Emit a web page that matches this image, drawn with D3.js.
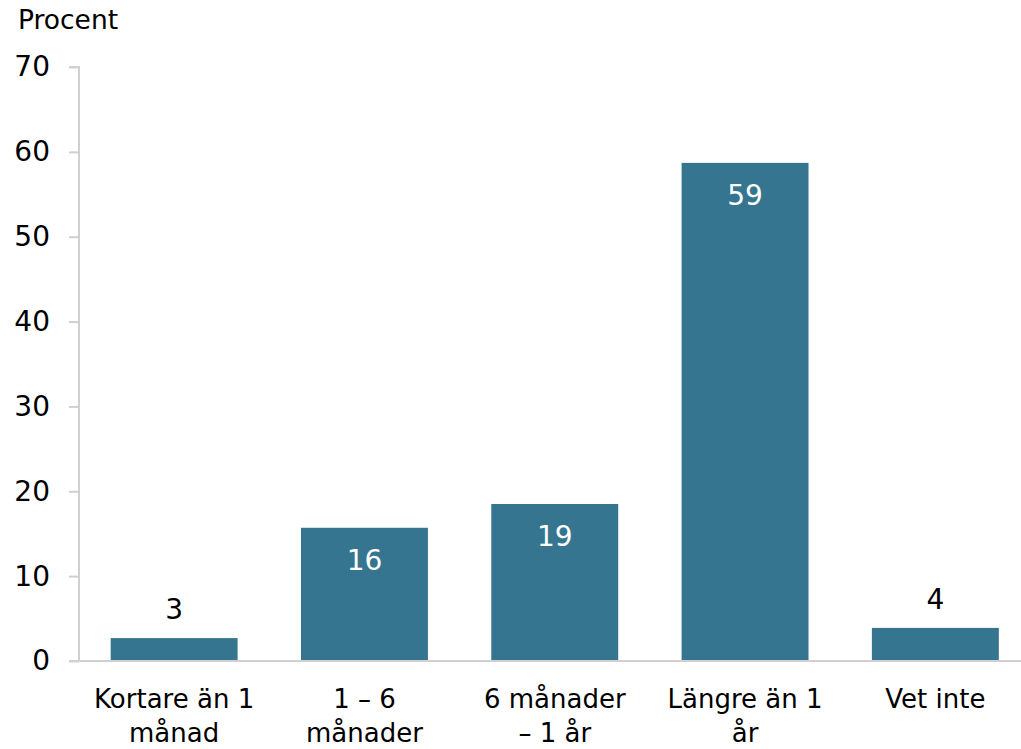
<!DOCTYPE html>
<html><head><meta charset="utf-8">
<script src="https://cdn.jsdelivr.net/npm/d3@7"></script>
<style>html,body{margin:0;padding:0;background:#fff;}svg{display:block;}</style>
</head><body>
<script>
const categories = [["Kortare än 1","månad"],["1 – 6","månader"],["6 månader","– 1 år"],["Längre än 1","år"],["Vet inte"]];
const values = [2.7, 15.7, 18.5, 58.7, 3.9];
const yTicks = [0,10,20,30,40,50,60,70];
const insideLabel = [false, true, true, true, false];

const W = 1021, H = 749;
const font = "DejaVu Sans, sans-serif";
const svg = d3.select("body").append("svg").attr("width", W).attr("height", H);

const x0 = 79, y0 = 661, yTop = 67;
const step = 190.3;
const x = d3.scaleBand().domain(d3.range(values.length)).range([x0, x0 + step * values.length]).paddingInner(0.333).paddingOuter(0.333/2);
const y = d3.scaleLinear().domain([0, 70]).range([y0, yTop]);

// y axis
const yAxis = d3.axisLeft(y).tickValues(yTicks).tickSize(10).tickPadding(19).tickFormat(d3.format("d"));
const gy = svg.append("g").attr("transform", `translate(${x0},0)`).call(yAxis);
gy.select(".domain").attr("stroke", "#d0d0d0").attr("stroke-width", 2).attr("d", `M-10,${yTop}H0V${y0}`);
gy.selectAll(".tick line").attr("stroke", "#d0d0d0").attr("stroke-width", 2);
gy.selectAll(".tick text").attr("font-family", font).attr("font-size", 28).attr("fill", "#000");

// bars
svg.append("g").selectAll("rect").data(values).join("rect")
  .attr("x", (d,i) => x(i)).attr("width", x.bandwidth())
  .attr("y", d => y(d)).attr("height", d => y0 - y(d))
  .attr("fill", "#357590");

// baseline
svg.append("line").attr("x1", x0 - 10).attr("x2", W).attr("y1", y0).attr("y2", y0)
  .attr("stroke", "#d0d0d0").attr("stroke-width", 2);

// value labels
svg.append("g").selectAll("text").data(values).join("text")
  .attr("x", (d,i) => x(i) + x.bandwidth()/2)
  .attr("y", (d,i) => insideLabel[i] ? y(d) + 42 : y(d) - 19)
  .attr("text-anchor", "middle").attr("font-family", font).attr("font-size", 28)
  .attr("fill", (d,i) => insideLabel[i] ? "#fff" : "#000")
  .text(d => Math.round(d));

// category labels
const cl = svg.append("g").selectAll("text").data(categories).join("text")
  .attr("x", (d,i) => x(i) + x.bandwidth()/2)
  .attr("y", 708)
  .attr("text-anchor", "middle").attr("font-family", font).attr("font-size", 26).attr("fill", "#000");
cl.selectAll("tspan").data(d => d).join("tspan")
  .attr("x", function(){ return d3.select(this.parentNode).attr("x"); })
  .attr("dy", (d,i) => i === 0 ? 0 : 34)
  .text(d => d);

// axis title
svg.append("text").attr("x", 18).attr("y", 29).attr("font-family", font).attr("font-size", 26.5).attr("fill", "#000").text("Procent");
</script>
</body></html>
